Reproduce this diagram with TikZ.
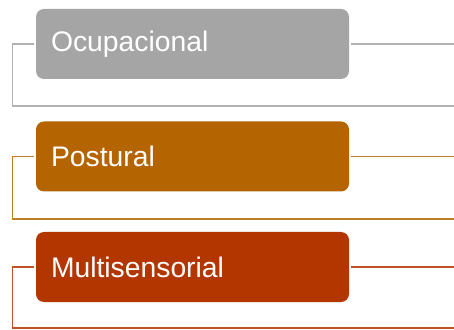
\documentclass[tikz,border=0pt]{standalone}
\usepackage{fontspec}
\setmainfont{Liberation Sans}
\usetikzlibrary{calc}
\definecolor{mygray}{HTML}{A5A5A5}
\definecolor{mybrown}{HTML}{B46400}
\definecolor{myred}{HTML}{B33500}
\tikzset{
  box/.style={rounded corners=8pt, minimum width=313pt, minimum height=70pt,
    text width=283pt, inner xsep=15pt, inner ysep=0pt, align=left, text=white,
    font=\fontsize{28.3}{33}\selectfont},
  link/.style={line width=1.3pt}
}

\begin{document}
\begin{tikzpicture}[x=1pt,y=1pt]
    \useasboundingbox (0,0) rectangle (454,329);

    % Boxes
    \node[box, fill=mygray] (ocup) at (192.5,285) {Ocupacional};
    \node[box, fill=mybrown] (post) at (192.5,172.5) {Postural};
    \node[box, fill=myred] (multi) at (192.5,62) {Multisensorial};

    % Corners of the brackets
    \coordinate (ocupL) at (12.5,285);
    \coordinate (ocupB) at (12.5,223);
    \coordinate (ocupR) at (454,223);
    \coordinate (ocupE) at (454,285);

    \coordinate (postL) at (12.5,172.5);
    \coordinate (postB) at (12.5,110);
    \coordinate (postR) at (454,110);
    \coordinate (postE) at (454,172.5);

    \coordinate (multiL) at (12.5,62);
    \coordinate (multiB) at (12.5,1);
    \coordinate (multiR) at (454,1);
    \coordinate (multiE) at (454,62);

    % Brackets
    \draw[link, mygray!85] ([xshift=-2pt]ocup.west) -- (ocupL) -- (ocupB) -- (ocupR);
    \draw[link, mygray!85] ([xshift=2pt]ocup.east) -- (ocupE);

    \draw[link, mybrown!85] ([xshift=-2pt]post.west) -- (postL) -- (postB) -- (postR);
    \draw[link, mybrown!85] ([xshift=2pt]post.east) -- (postE);

    \draw[link, myred!85] ([xshift=-2pt]multi.west) -- (multiL) -- (multiB) -- (multiR);
    \draw[link, myred!85] ([xshift=2pt]multi.east) -- (multiE);
\end{tikzpicture}
\end{document}
